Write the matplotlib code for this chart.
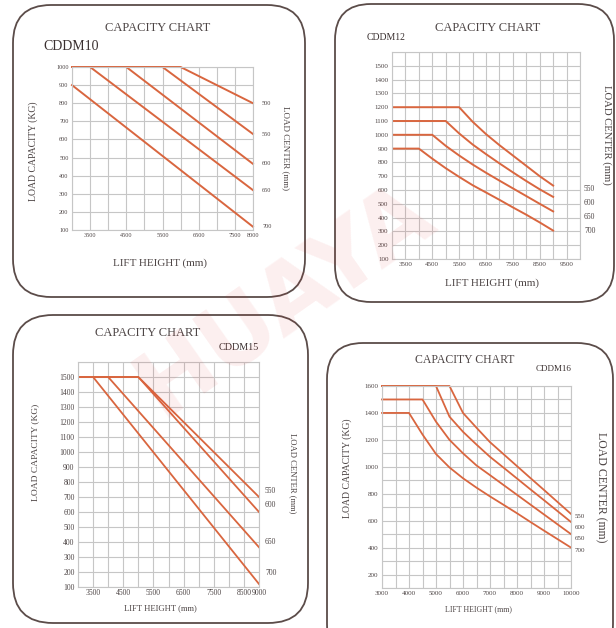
import numpy as np
import matplotlib
matplotlib.use("Agg")
import matplotlib.pyplot as plt
from matplotlib.patches import FancyBboxPatch

# ---- data ----
centers = ["550", "600", "650", "700"]

# CDDM10 (load center 500..700)
m10_centers = ["500", "550", "600", "650", "700"]
m10_x = [[3000, 6000, 8000], [3000, 5500, 8000], [3000, 4500, 8000],
         [3000, 3500, 8000], [3000, 8000]]
m10_y = [[1000, 1000, 800], [1000, 1000, 630], [1000, 1000, 465],
         [1000, 1000, 320], [900, 118]]
m10_lab_y = [800, 625, 465, 320, 120]

# CDDM12
m12_x = [3000, 3500, 4000, 4500, 5000, 5500, 6000, 6500, 7000, 7500, 8000, 8500, 9000]
m12_550 = [1200, 1200, 1200, 1200, 1200, 1200, 1095, 1005, 925, 850, 775, 700, 632]
m12_600 = [1100, 1100, 1100, 1100, 1100, 1010, 930, 860, 793, 728, 665, 605, 550]
m12_650 = [1000, 1000, 1000, 1000, 920, 850, 785, 725, 668, 612, 556, 500, 445]
m12_700 = [900, 900, 900, 827, 758, 695, 635, 582, 529, 474, 421, 365, 306]
m12_lab_y = [605, 505, 405, 305]

# CDDM15
m15_x = [[3000, 5000, 9000], [3000, 5000, 9000], [3000, 4000, 9000], [3000, 3500, 9000]]
m15_y = [[1500, 1500, 700], [1500, 1500, 600], [1500, 1500, 365], [1500, 1500, 120]]
m15_lab_y = [740, 645, 400, 195]

# CDDM16
m16_x = [3000, 3500, 4000, 4500, 5000, 5500, 6000, 6500, 7000, 7500, 8000, 8500, 9000, 9500, 10000]
m16_550 = [1600, 1600, 1600, 1600, 1600, 1600, 1400, 1290, 1183, 1094, 1005, 916, 828, 739, 650]
m16_600 = [1600, 1600, 1600, 1600, 1600, 1372, 1260, 1165, 1074, 994, 913, 832, 752, 671, 590]
m16_650 = [1500, 1500, 1500, 1500, 1335, 1200, 1100, 1010, 938, 865, 792, 719, 646, 573, 500]
m16_700 = [1400, 1400, 1400, 1240, 1095, 995, 915, 845, 780, 718, 655, 590, 526, 463, 400]
m16_lab_y = [632, 546, 468, 376]

W, H = 616, 628
RED = "#d9663f"
GRID = "#c6c6c6"
TXT = "#4d4545"
SERIF = ["Liberation Serif", "DejaVu Serif"]
plt.rcParams["font.family"] = SERIF

fig = plt.figure(figsize=(W / 100, H / 100), dpi=100)
bg = fig.add_axes([0, 0, 1, 1])
bg.set_xlim(0, W)
bg.set_ylim(H, 0)
bg.axis("off")


def rect(l, t, r, b):
    return [l / W, 1 - b / H, (r - l) / W, (b - t) / H]


def box(l, t, r, b, rad):
    p = FancyBboxPatch((l, t), r - l, b - t, boxstyle="round,pad=0,rounding_size=%d" % rad,
                       fc="white", ec="#5b4c49", lw=1.3)
    bg.add_patch(p)


box(13, 5, 305, 297, 38)
box(335, 4, 614, 302, 36)
box(13, 315, 308, 623, 40)
box(327, 343, 613, 660, 36)


def panel(pos, xlim, ylim, xgrid, ygrid, xt, yt, fs=5):
    ax = fig.add_axes(rect(*pos))
    ax.set_xlim(*xlim)
    ax.set_ylim(*ylim)
    ax.set_xticks(xgrid, minor=True)
    ax.set_yticks(ygrid, minor=True)
    ax.set_xticks(xt)
    ax.set_yticks(yt)
    ax.set_xticklabels([str(v) for v in xt], fontsize=fs, color=TXT)
    ax.set_yticklabels([str(v) for v in yt], fontsize=fs, color=TXT)
    ax.grid(which="both", color=GRID, lw=0.8)
    ax.tick_params(which="both", length=0, pad=2.5)
    for s in ax.spines.values():
        s.set_color(GRID)
        s.set_linewidth(0.8)
    ax.set_facecolor("none")
    return ax


# ---- CDDM10 ----
ax1 = panel((72, 67, 253, 230), (3000, 8000), (100, 1000),
            np.arange(3000, 8001, 500), np.arange(100, 1001, 100),
            [3500, 4500, 5500, 6500, 7500, 8000], list(range(100, 1001, 100)), fs=4.5)
for xs, ys in zip(m10_x, m10_y):
    ax1.plot(xs, ys, color=RED, lw=1.4, clip_on=False)
for c, yv in zip(m10_centers, m10_lab_y):
    ax1.text(8250, yv, c, fontsize=4.5, color=TXT, va="center", ha="left")
bg.text(158, 28, "CAPACITY CHART", fontsize=9, color=TXT, ha="center", va="center")
bg.text(43, 46, "CDDM10", fontsize=10, color="#3a3030", ha="left", va="center")
bg.text(33, 151, "LOAD CAPACITY (KG)", fontsize=7, color=TXT, rotation=90, ha="center", va="center")
bg.text(286, 148, "LOAD CENTER (mm)", fontsize=6.5, color=TXT, rotation=-90, ha="center", va="center")
bg.text(160, 263, "LIFT HEIGHT (mm)", fontsize=8, color=TXT, ha="center", va="center")

# ---- CDDM12 ----
ax2 = panel((392, 52, 580, 259), (3000, 10000), (100, 1600),
            np.arange(3000, 10001, 500), np.arange(100, 1601, 100),
            list(range(3500, 9501, 1000)), list(range(100, 1501, 100)), fs=5)
for ys in [m12_550, m12_600, m12_650, m12_700]:
    ax2.plot(m12_x, ys, color=RED, lw=1.4)
for c, yv in zip(centers, m12_lab_y):
    ax2.text(10150, yv, c, fontsize=5.5, color=TXT, va="center", ha="left")
bg.text(488, 28, "CAPACITY CHART", fontsize=9, color=TXT, ha="center", va="center")
bg.text(367, 38, "CDDM12", fontsize=7, color="#3a3030", ha="left", va="center")
bg.text(607, 135, "LOAD CENTER (mm)", fontsize=7.7, color=TXT, rotation=-90, ha="center", va="center")
bg.text(492, 283, "LIFT HEIGHT (mm)", fontsize=8, color=TXT, ha="center", va="center")

# ---- CDDM15 ----
ax3 = panel((78, 362, 259, 587), (3000, 9000), (100, 1600),
            np.arange(3000, 9001, 500), np.arange(100, 1601, 100),
            [3500, 4500, 5500, 6500, 7500, 8500, 9000], list(range(100, 1501, 100)), fs=5.5)
ax3.tick_params(axis="x", pad=1.5)
for xs, ys in zip(m15_x, m15_y):
    ax3.plot(xs, ys, color=RED, lw=1.3)
for c, yv in zip(centers, m15_lab_y):
    ax3.text(9200, yv, c, fontsize=5.5, color=TXT, va="center", ha="left")
bg.text(148, 333, "CAPACITY CHART", fontsize=9, color=TXT, ha="center", va="center")
bg.text(259, 347, "CDDM15", fontsize=7.3, color="#3a3030", ha="right", va="center")
bg.text(35, 452, "LOAD CAPACITY (KG)", fontsize=6.8, color=TXT, rotation=90, ha="center", va="center")
bg.text(293, 473, "LOAD CENTER (mm)", fontsize=6.2, color=TXT, rotation=-90, ha="center", va="center")
bg.text(160, 608, "LIFT HEIGHT (mm)", fontsize=6.2, color=TXT, ha="center", va="center")

# ---- CDDM16 ----
ax4 = panel((382, 386, 571, 588), (3000, 10000), (100, 1600),
            np.arange(3000, 10001, 500), np.arange(100, 1601, 100),
            list(range(3000, 10001, 1000)), list(range(200, 1601, 200)), fs=5)
for ys in [m16_550, m16_600, m16_650, m16_700]:
    ax4.plot(m16_x, ys, color=RED, lw=1.3, clip_on=False)
for c, yv in zip(centers, m16_lab_y):
    ax4.text(10130, yv, c, fontsize=5, color=TXT, va="center", ha="left")
bg.text(465, 360, "CAPACITY CHART", fontsize=8.5, color=TXT, ha="center", va="center")
bg.text(554, 369, "CDDM16", fontsize=6.5, color="#3a3030", ha="center", va="center")
bg.text(347, 468, "LOAD CAPACITY (KG)", fontsize=7, color=TXT, rotation=90, ha="center", va="center")
bg.text(601, 487, "LOAD CENTER (mm)", fontsize=8.5, color=TXT, rotation=-90, ha="center", va="center")
bg.text(478, 609, "LIFT HEIGHT (mm)", fontsize=5.7, color=TXT, ha="center", va="center")

# faint watermark
fig.text(285 / W, 1 - 300 / H, "HUAYA", fontsize=66, fontweight="bold", color="#e03030",
         alpha=0.08, rotation=35, ha="center", va="center", family=["DejaVu Sans"])

fig.savefig("out.png", dpi=100)
